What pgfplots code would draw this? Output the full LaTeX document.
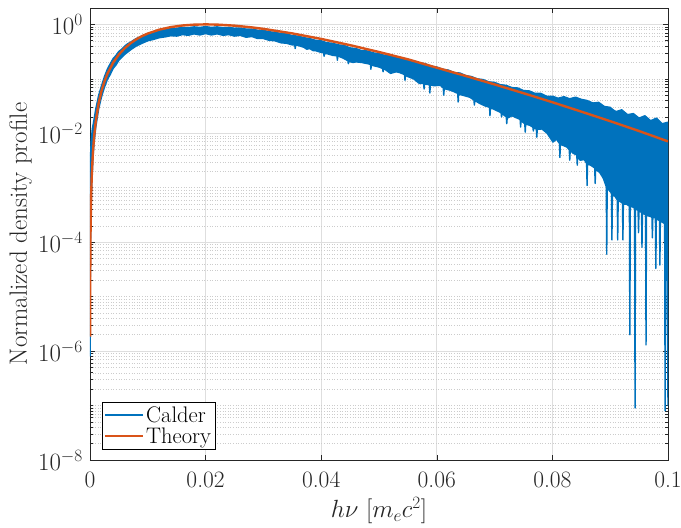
\documentclass[border=0pt]{standalone}
\usepackage{pgfplots}
\pgfplotsset{compat=1.18}
\definecolor{mblue}{rgb}{0,0.447,0.741}
\definecolor{morange}{rgb}{0.85,0.325,0.098}
\definecolor{axgray}{rgb}{0.15,0.15,0.15}
\begin{document}
\begin{tikzpicture}
\begin{axis}[
 scale only axis, width=578pt, height=452pt,
 xmin=0, xmax=0.1, ymode=log, ymin=1e-8, ymax=2,
 xtick={0,0.02,0.04,0.06,0.08,0.1},
 xticklabels={0,0.02,0.04,0.06,0.08,0.1},
 ytick={1e-8,1e-6,1e-4,1e-2,1},
 minor ytick={2e-8,3e-8,4e-8,5e-8,6e-8,7e-8,8e-8,9e-8,1e-7,2e-7,3e-7,4e-7,5e-7,6e-7,7e-7,8e-7,9e-7,
 2e-6,3e-6,4e-6,5e-6,6e-6,7e-6,8e-6,9e-6,1e-5,2e-5,3e-5,4e-5,5e-5,6e-5,7e-5,8e-5,9e-5,
 2e-4,3e-4,4e-4,5e-4,6e-4,7e-4,8e-4,9e-4,1e-3,2e-3,3e-3,4e-3,5e-3,6e-3,7e-3,8e-3,9e-3,
 2e-2,3e-2,4e-2,5e-2,6e-2,7e-2,8e-2,9e-2,1e-1,2e-1,3e-1,4e-1,5e-1,6e-1,7e-1,8e-1,9e-1},
 tick align=inside,
 major tick length=5pt, minor tick length=3pt,
 xmajorgrids, ymajorgrids, yminorgrids,
 major grid style={color=black!13, line width=0.8pt},
 minor grid style={color=black!20, line width=0.5pt, dash pattern=on 0.8pt off 1.8pt},
 axis line style={axgray, line width=0.6pt},
 every tick/.append style={axgray, line width=0.6pt},
 tick label style={font=\fontsize{23.5}{27}\selectfont, text=axgray},
 yticklabel style={anchor=east, inner sep=0pt, xshift=-7pt},
 xticklabel style={anchor=north, inner sep=0pt, yshift=-12pt},
 xlabel={$h\nu~[m_e c^2]$},
 ylabel={Normalized density profile},
 xlabel style={font=\fontsize{25}{29}\selectfont, text=axgray, at={(axis description cs:0.5,-0.0819)}, anchor=north, inner sep=0pt},
 ylabel style={font=\fontsize{25}{29}\selectfont, text=axgray, at={(axis description cs:-0.1003,0.5)}, anchor=south, inner sep=0pt},
 legend style={at={(0.0208,0.0243)}, anchor=south west, font=\fontsize{22.5}{26}\selectfont, inner xsep=2pt, inner ysep=2pt, row sep=0pt},
 legend cell align=left,
 legend image code/.code={\draw[#1] (0pt,0pt) -- (38pt,0pt);},
]
\coordinate (SW) at (rel axis cs:0,0);
% Calder: band (upper edge left to right, lower edge right to left)
\addplot[draw=mblue, fill=mblue, line width=1.4pt, line join=round] coordinates {
(0.00001,8e-7) (0.00002,3e-4) (0.00005,2e-3) (0.0001,4e-3) (0.0002,7e-3) (0.0004,0.012) (0.0007,0.018)
(0.001,0.028) (0.0015,0.05) (0.002,0.075) (0.0025,0.11) (0.003,0.15) (0.0035,0.19) (0.004,0.235)
(0.0045,0.27) (0.005,0.32) (0.0055,0.35) (0.006,0.40) (0.0065,0.44) (0.007,0.47) (0.0075,0.51)
(0.008,0.55) (0.009,0.61) (0.010,0.67) (0.011,0.72) (0.012,0.77) (0.013,0.80) (0.014,0.84)
(0.015,0.85) (0.016,0.88) (0.017,0.87) (0.018,0.90) (0.019,0.88) (0.020,0.91) (0.021,0.88)
(0.022,0.90) (0.023,0.87) (0.024,0.88) (0.025,0.85) (0.026,0.86) (0.027,0.82) (0.028,0.82)
(0.029,0.78) (0.030,0.78) (0.031,0.73) (0.032,0.72) (0.033,0.68) (0.034,0.67) (0.035,0.62)
(0.036,0.61) (0.037,0.57) (0.038,0.55) (0.039,0.51) (0.040,0.50) (0.041,0.46) (0.042,0.45)
(0.043,0.42) (0.044,0.41) (0.045,0.37) (0.046,0.36) (0.047,0.33) (0.048,0.325) (0.049,0.30)
(0.050,0.29) (0.051,0.27) (0.052,0.265) (0.053,0.245) (0.054,0.24) (0.055,0.22) (0.056,0.215)
(0.057,0.195) (0.058,0.19) (0.059,0.17) (0.060,0.165) (0.061,0.15) (0.062,0.145) (0.063,0.13)
(0.064,0.128) (0.065,0.115) (0.066,0.11) (0.067,0.10) (0.068,0.097) (0.069,0.088) (0.070,0.086)
(0.071,0.078) (0.072,0.076) (0.073,0.069) (0.074,0.068) (0.075,0.061) (0.076,0.06) (0.077,0.054)
(0.078,0.054) (0.079,0.048) (0.080,0.048) (0.081,0.044) (0.082,0.047) (0.083,0.043) (0.084,0.046)
(0.085,0.042) (0.086,0.040) (0.087,0.036) (0.088,0.037) (0.089,0.031) (0.090,0.030) (0.0905,0.027)
(0.091,0.025) (0.092,0.027) (0.093,0.022) (0.094,0.023) (0.095,0.019) (0.096,0.021) (0.097,0.017)
(0.098,0.019) (0.099,0.015) (0.1,0.016)
(0.1,1e-7) (0.0998,2e-4)
(0.09958,2.2e-4) (0.0995,8e-8) (0.09942,2.2e-4) (0.0991,2.3e-4)
(0.09868,2.5e-4) (0.0986,3.8e-5) (0.09852,2.5e-4)
(0.09798,2.7e-4) (0.0979,3.3e-5) (0.09782,2.8e-4)
(0.09738,2.9e-4) (0.0973,1.2e-4) (0.09722,2.9e-4) (0.0968,3e-4)
(0.09628,3.1e-4) (0.0962,1.3e-6) (0.09612,3.2e-4)
(0.09558,3.4e-4) (0.0955,8e-5) (0.09542,3.5e-4)
(0.09498,3.8e-4) (0.0949,1.5e-4) (0.09482,3.9e-4)
(0.09438,4e-4) (0.0943,9e-8) (0.09422,4.2e-4) (0.0938,4.5e-4)
(0.09348,4.5e-4) (0.0934,2e-6) (0.09332,4.6e-4) (0.0928,5e-4)
(0.09228,5e-4) (0.0922,1.1e-4) (0.09212,5.2e-4) (0.0918,5.5e-4)
(0.09138,5.8e-4) (0.0913,1.1e-4) (0.09122,6e-4) (0.0908,7e-4)
(0.09038,7.5e-4) (0.0903,1.1e-4) (0.09022,8e-4) (0.0898,9e-4)
(0.08948,1e-3) (0.0894,6e-5) (0.08932,1.05e-3) (0.0888,1.5e-3) (0.0882,1.9e-3)
(0.08748,2.2e-3) (0.0874,1.2e-3) (0.08732,2.3e-3) (0.0871,2.4e-3) (0.0866,2.6e-3)
(0.08608,2.7e-3) (0.0860,1.1e-3) (0.08592,2.8e-3) (0.0855,3.3e-3) (0.0848,3.2e-3)
(0.08438,3.8e-3) (0.0843,2.6e-3) (0.08422,4e-3) (0.0836,4.3e-3)
(0.08308,4.8e-3) (0.0830,3.2e-3) (0.08292,5e-3) (0.0825,5.6e-3)
(0.08138,6.3e-3) (0.0813,3.6e-3) (0.08122,6.5e-3) (0.0807,7.8e-3) (0.0801,6.9e-3)
(0.0791,0.010) (0.0782,0.012)
(0.07738,0.0118) (0.0773,0.0085) (0.07722,0.012)
(0.07678,0.0125) (0.0767,0.011) (0.07662,0.013) (0.0761,0.014)
(0.07538,0.0148) (0.0753,0.0105) (0.07522,0.015)
(0.07458,0.017) (0.0745,0.013) (0.07442,0.018) (0.0739,0.019) (0.0730,0.021)
(0.07218,0.019) (0.0721,0.015) (0.07202,0.02)
(0.07128,0.023) (0.0712,0.020) (0.07112,0.024) (0.0704,0.026) (0.0698,0.028)
(0.06928,0.029) (0.0692,0.021) (0.06912,0.03) (0.0683,0.032) (0.0675,0.035)
(0.06658,0.04) (0.0665,0.033) (0.06642,0.041) (0.0657,0.046) (0.0645,0.05)
(0.06378,0.052) (0.0637,0.0375) (0.06362,0.054) (0.0630,0.058) (0.0623,0.062)
(0.06128,0.066) (0.0612,0.05) (0.06112,0.068) (0.0606,0.076) (0.0595,0.075)
(0.05888,0.077) (0.0588,0.055) (0.05872,0.078) (0.0580,0.08)
(0.05788,0.081) (0.0578,0.065) (0.05772,0.082) (0.057,0.082) (0.056,0.10) (0.055,0.11)
(0.05458,0.115) (0.0545,0.094) (0.05442,0.12) (0.0536,0.13) (0.053,0.135) (0.052,0.126) (0.051,0.15)
(0.05078,0.15) (0.0507,0.135) (0.05062,0.155) (0.050,0.165) (0.049,0.175)
(0.04868,0.18) (0.0486,0.15) (0.04852,0.185) (0.048,0.19) (0.047,0.20) (0.046,0.205) (0.0455,0.20)
(0.04478,0.21) (0.0447,0.19) (0.04462,0.215) (0.0438,0.24) (0.043,0.26)
(0.04288,0.26) (0.0428,0.22) (0.04272,0.265) (0.042,0.27) (0.041,0.29)
(0.04058,0.29) (0.0405,0.26) (0.04042,0.30) (0.0398,0.31) (0.039,0.33) (0.0386,0.33)
(0.038,0.36) (0.0375,0.35) (0.037,0.38) (0.036,0.41)
(0.03558,0.41) (0.0355,0.36) (0.03542,0.42) (0.035,0.42) (0.034,0.45) (0.033,0.46)
(0.032,0.50) (0.031,0.51) (0.030,0.55)
(0.029,0.55) (0.028,0.60) (0.027,0.58) (0.026,0.63) (0.025,0.61) (0.024,0.65) (0.023,0.63)
(0.022,0.67) (0.021,0.64) (0.020,0.68) (0.019,0.64) (0.018,0.67) (0.017,0.63) (0.016,0.65)
(0.015,0.61) (0.014,0.62) (0.013,0.59) (0.012,0.57) (0.011,0.53) (0.010,0.50) (0.009,0.45)
(0.008,0.40) (0.007,0.34) (0.006,0.28) (0.005,0.22) (0.0045,0.18) (0.004,0.155) (0.0035,0.12)
(0.003,0.097) (0.0025,0.07) (0.002,0.047) (0.0015,0.028) (0.001,0.013) (0.0007,6.5e-3)
(0.0005,3.4e-3) (0.0003,1.2e-3) (0.0002,5.5e-4) (0.0001,1.4e-4) (0.00003,1e-5) (0.00001,8e-7)
};
\addlegendentry{Calder}
% Theory
\addplot[morange, line width=2.4pt, line join=round,
 legend image post style={draw=morange, line width=2pt}] coordinates {
(0.00001,1.85e-6) (0.00003,1.66e-5) (0.0001,1.83e-4) (0.0002,7.2e-4) (0.0003,1.61e-3) (0.0005,4.4e-3)
(0.0007,8.5e-3) (0.001,0.0167) (0.0015,0.0358) (0.002,0.0605) (0.0025,0.0894) (0.003,0.123)
(0.004,0.198) (0.005,0.280) (0.006,0.365) (0.007,0.449) (0.008,0.531) (0.009,0.610) (0.010,0.680)
(0.012,0.801) (0.014,0.893) (0.016,0.955) (0.018,0.989) (0.020,1.0) (0.022,0.991) (0.025,0.948)
(0.028,0.881) (0.030,0.828) (0.035,0.683) (0.040,0.541) (0.045,0.4155) (0.050,0.311) (0.055,0.2284)
(0.060,0.160) (0.065,0.113) (0.070,0.079) (0.075,0.0545) (0.080,0.0372) (0.085,0.0250)
(0.090,0.0167) (0.095,0.0110) (0.100,0.0071)
};
\addlegendentry{Theory}
\end{axis}
\pgfresetboundingbox
\path (SW) ++(-90pt,-68pt) rectangle ++(681pt,528pt);
\end{tikzpicture}
\end{document}
